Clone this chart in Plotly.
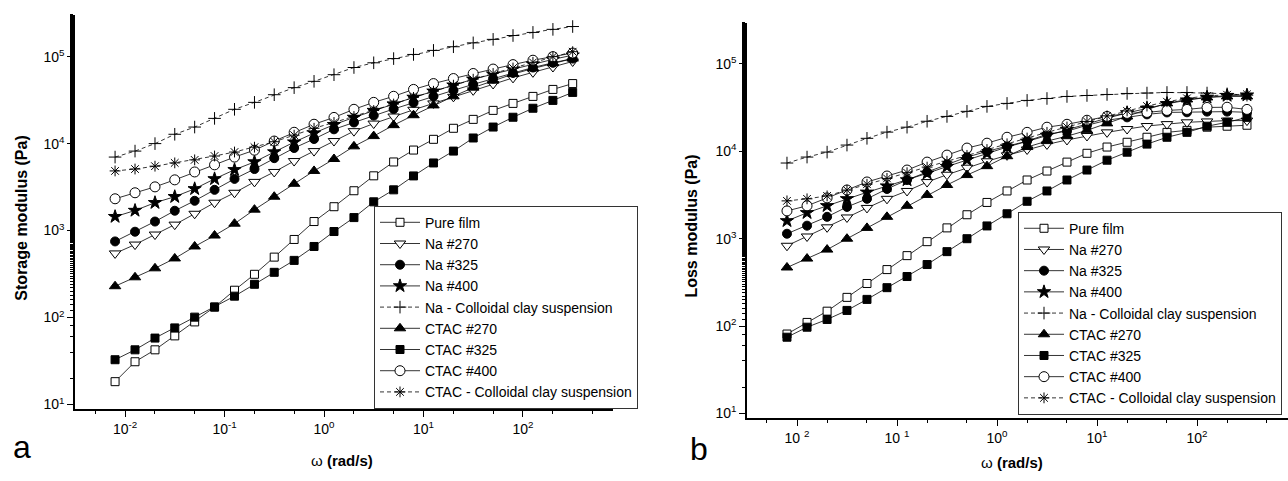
import plotly.graph_objects as go

W, H = 1288, 481

omega = [0.00794, 0.0126, 0.02, 0.0316, 0.0501, 0.0794, 0.126, 0.2, 0.316, 0.501,
         0.794, 1.26, 2.0, 3.16, 5.01, 7.94, 12.6, 20.0, 31.6, 50.1, 79.4, 126, 200, 316]

names = ["Pure film", "Na #270", "Na #325", "Na #400", "Na - Colloidal clay suspension",
         "CTAC #270", "CTAC #325", "CTAC #400", "CTAC - Colloidal clay suspension"]

# Storage modulus (panel a)
g1_pure = [18.3, 31, 42.5, 61.5, 89, 132, 206, 314, 495, 790, 1270, 1880, 2870, 4260, 6150, 8430,
           11200, 15000, 19000, 24100, 29000, 34900, 42000, 49000]
g1_na270 = [546, 690, 900, 1170, 1560, 2090, 2720, 3630, 4720, 6300, 8200, 10700, 13900, 17000, 20500,
            24500, 29000, 34500, 41000, 48500, 57000, 66000, 76000, 88000]
g1_na325 = [750, 970, 1270, 1690, 2200, 2940, 3930, 5100, 6800, 8900, 11300, 14600, 17500, 21000, 25000,
            29500, 35000, 41000, 48000, 56000, 65000, 75000, 85000, 95000]
g1_na400 = [1445, 1700, 2090, 2450, 3020, 3930, 5000, 6150, 8000, 10400, 13200, 16500, 20000, 24000, 28500,
            34000, 40000, 47000, 55000, 63000, 72000, 82000, 93000, 104000]
g1_nacoll = [7000, 8200, 10000, 12800, 15500, 19500, 24800, 29800, 36500, 44000, 52000, 62000, 75000, 85000,
             95000, 106000, 118000, 130000, 144000, 158000, 175000, 190000, 206000, 222000]
g1_ctac270 = [229, 290, 368, 478, 656, 877, 1200, 1740, 2450, 3450, 4850, 6650, 9300, 12200, 16300, 21200,
              27500, 35000, 44000, 53000, 63000, 73000, 84000, 95000]
g1_ctac325 = [32.7, 42.5, 58, 76, 101, 132, 176, 241, 331, 454, 656, 975, 1410, 2140, 2940, 4250, 5990,
              8200, 11600, 15500, 20100, 25500, 31400, 38800]
g1_ctac400 = [2320, 2720, 3180, 3830, 4720, 5700, 7000, 8400, 10700, 13500, 16700, 20000, 24800, 29800,
              35000, 42000, 49000, 56000, 64000, 72000, 81000, 91000, 100000, 110000]
g1_ctaccoll = [4850, 5100, 5500, 6000, 6500, 7200, 8000, 9100, 10500, 12500, 15000, 17500, 20500, 24000,
               28500, 34000, 40000, 47000, 55000, 64000, 74000, 86000, 100000, 114000]

# Loss modulus (panel b)
g2_pure = [81, 110, 148, 213, 307, 443, 640, 925, 1330, 1880, 2600, 3520, 4700, 5950, 7530, 9500, 11200,
           12700, 14500, 16500, 17400, 18900, 19400, 19900]
g2_na270 = [830, 1060, 1350, 1750, 2250, 2860, 3520, 4450, 5400, 6500, 7700, 9000, 10500, 12000, 13500,
            15000, 16500, 18000, 19500, 20500, 21500, 22000, 22500, 22500]
g2_na325 = [1140, 1410, 1780, 2310, 2860, 3710, 4700, 5800, 7100, 8590, 10000, 11400, 13100, 15700, 17000,
            19900, 22700, 24500, 26500, 27900, 28000, 28500, 28500, 28000]
g2_na400 = [1600, 1980, 2380, 2860, 3400, 4000, 4700, 5600, 6700, 8000, 9500, 11200, 13000, 15200, 17800,
            20800, 24000, 27500, 31000, 35000, 38500, 41500, 43500, 44000]
g2_nacoll = [7350, 8600, 9800, 11800, 14100, 16600, 18900, 22100, 25100, 28700, 32700, 35400, 38300, 40300,
             42500, 43600, 44800, 46000, 46500, 47200, 47200, 46500, 45500, 44000]
g2_ctac270 = [468, 592, 750, 1000, 1330, 1780, 2380, 3170, 4120, 5350, 6770, 8800, 11200, 13100, 14900,
              17400, 20900, 25100, 30200, 35400, 39300, 41400, 42500, 42500]
g2_ctac325 = [74.5, 97, 119, 151, 202, 275, 369, 506, 711, 1000, 1400, 1930, 2680, 3520, 4700, 6110, 7920,
              9780, 12100, 14500, 16500, 19400, 21500, 24500]
g2_ctac400 = [2080, 2380, 2930, 3610, 4460, 5220, 6110, 7530, 9060, 10900, 12400, 14500, 16500, 18900,
              20400, 22700, 25100, 27200, 27900, 29400, 30200, 31800, 32000, 30200]
g2_ctaccoll = [2710, 2860, 3090, 3600, 4200, 4900, 5700, 6600, 7700, 9000, 10500, 12200, 14200, 16500,
               19000, 22000, 25500, 29000, 33000, 37000, 40500, 43000, 44500, 45000]

panel_a = [g1_pure, g1_na270, g1_na325, g1_na400, g1_nacoll, g1_ctac270, g1_ctac325, g1_ctac400, g1_ctaccoll]
panel_b = [g2_pure, g2_na270, g2_na325, g2_na400, g2_nacoll, g2_ctac270, g2_ctac325, g2_ctac400, g2_ctaccoll]

x_tickvals = [0.01, 0.1, 1, 10, 100]
x_ticktext_a = ["10<sup>-2</sup>", "10<sup>-1</sup>", "10<sup>0</sup>", "10<sup>1</sup>", "10<sup>2</sup>"]
x_ticktext_b = ["10 <sup>2</sup>", "10 <sup>1</sup>", "10<sup>0</sup>", "10<sup>1</sup>", "10<sup>2</sup>"]
y_tickvals = [10, 100, 1000, 10000, 100000]
y_ticktext = ["10<sup>1</sup>", "10<sup>2</sup>", "10<sup>3</sup>", "10<sup>4</sup>", "10<sup>5</sup>"]

# marker styles: (symbol, fill, size, dashed line)
styles = [
    ("square", "white", 8, False),
    ("triangle-down", "white", 10, False),
    ("circle", "black", 9, False),
    ("star", "black", 10, False),
    ("cross-thin", "black", 9, True),
    ("triangle-up", "black", 10, False),
    ("square", "black", 8, False),
    ("circle", "white", 10, False),
    ("asterisk", "black", 9, True),
]

FONT = "Liberation Sans, Arial, sans-serif"
fig = go.Figure()

for panel, data, xa, ya, leg in [(0, panel_a, "x", "y", "legend"), (1, panel_b, "x2", "y2", "legend2")]:
    for name, ys, (sym, fill, size, dashed) in zip(names, data, styles):
        fig.add_trace(go.Scatter(
            x=omega, y=ys, name=name, mode="lines+markers",
            xaxis=xa, yaxis=ya, legend=leg,
            line=dict(color="black", width=0.8, dash="4px,3px" if dashed else "solid"),
            marker=dict(symbol=sym, color=fill, size=size,
                        line=dict(color="black", width=1)),
        ))

common_x = dict(type="log", showline=True, linecolor="black", linewidth=1.5, ticks="outside",
                ticklen=6, tickwidth=1.2, tickcolor="black", showgrid=False, zeroline=False,
                tickvals=x_tickvals, tickfont=dict(family=FONT, size=14, color="black"),
                minor=dict(ticks="outside", ticklen=3, tickwidth=1, tickcolor="black", showgrid=False),
                mirror=False)
common_y = dict(type="log", showline=True, linecolor="black", linewidth=1.5, ticks="outside",
                ticklen=6, tickwidth=1.2, tickcolor="black", showgrid=False, zeroline=False,
                tickvals=y_tickvals, ticktext=y_ticktext,
                tickfont=dict(family=FONT, size=14, color="black"),
                minor=dict(ticks="outside", ticklen=3, tickwidth=1, tickcolor="black", showgrid=False),
                mirror=False)

legend_common = dict(xanchor="left", yanchor="top", bgcolor="white", bordercolor="#333",
                     borderwidth=1, font=dict(family=FONT, size=14, color="black"),
                     itemwidth=40, tracegroupgap=0)

fig.update_layout(
    width=W, height=H, autosize=False,
    margin=dict(l=0, r=0, t=0, b=0),
    paper_bgcolor="white", plot_bgcolor="white",
    font=dict(family=FONT, color="black"),
    xaxis=dict(common_x, domain=[75 / W, 613 / W], range=[-2.503, 2.905], ticktext=x_ticktext_a,
               anchor="y"),
    yaxis=dict(common_y, domain=[1 - 412 / H, 1 - 15 / H], range=[0.943, 5.48], anchor="x"),
    xaxis2=dict(common_x, domain=[747 / W, 1.0], range=[-2.5, 2.91], ticktext=x_ticktext_b,
                anchor="y2"),
    yaxis2=dict(common_y, domain=[1 - 421 / H, 1 - 23 / H], range=[0.943, 5.471], anchor="x2"),
    legend=dict(legend_common, x=374 / W, y=1 - 207 / H),
    legend2=dict(legend_common, x=1018 / W, y=1 - 213 / H),
    showlegend=True,
)

annots = [
    dict(text="<b>Storage modulus (Pa)</b>", x=22 / W, y=1 - 220 / H, textangle=-90, size=16),
    dict(text="<b>Loss modulus (Pa)</b>", x=692 / W, y=1 - 228 / H, textangle=-90, size=16),
    dict(text="ω <b>(rad/s)</b>", x=342 / W, y=1 - 463 / H, textangle=0, size=15),
    dict(text="ω <b>(rad/s)</b>", x=1012 / W, y=1 - 465 / H, textangle=0, size=15),
    dict(text="a", x=22 / W, y=1 - 450 / H, textangle=0, size=32),
    dict(text="b", x=699 / W, y=1 - 452 / H, textangle=0, size=32),
]
for a in annots:
    fig.add_annotation(text=a["text"], x=a["x"], y=a["y"], xref="paper", yref="paper",
                       xanchor="center", yanchor="middle", showarrow=False,
                       textangle=a["textangle"],
                       font=dict(family=FONT, size=a["size"], color="black"))

fig.write_html("out.html")
